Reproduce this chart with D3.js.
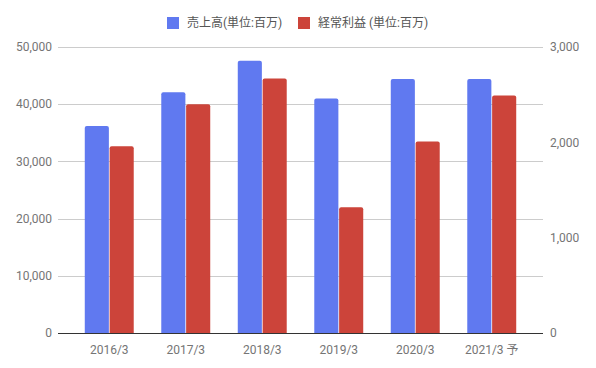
<!DOCTYPE html>
<html><head><meta charset="utf-8">
<script src="https://cdn.jsdelivr.net/npm/d3@7"></script>
<style>body{margin:0;background:#fff}svg{display:block;font-family:Roboto,"Noto Sans CJK JP",sans-serif}</style>
</head><body><svg id="c" width="596" height="368"></svg>
<script>
const categories = ["2016/3","2017/3","2018/3","2019/3","2020/3","2021/3 予"];
const sales = [36200, 42100, 47600, 41000, 44400, 44400];
const profit = [1960, 2400, 2670, 1320, 2010, 2490];
const seriesNames = ["売上高(単位:百万)", "経常利益 (単位:百万)"];
const leftTicks = [0, 10000, 20000, 30000, 40000, 50000];
const rightTicks = [0, 1000, 2000, 3000];
const colors = ["#6079f0", "#cc443a"];

const svg = d3.select("#c");
const L = 58, R = 543, T = 47, B = 333;
const x = d3.scaleBand().domain(categories).range([L, R]).paddingInner(0.36).paddingOuter(0.35);
const x1 = d3.scaleBand().domain([0,1]).range([0, x.bandwidth()]).paddingInner(0.03);
const yL = d3.scaleLinear().domain([0, 50000]).range([B, T]);
const yR = d3.scaleLinear().domain([0, 3000]).range([B, T]);
const fmt = d3.format(",");

// gridlines
svg.append("g").selectAll("line").data(leftTicks.filter(d=>d>0)).join("line")
  .attr("x1", L).attr("x2", R).attr("y1", d=>Math.round(yL(d))+0.5).attr("y2", d=>Math.round(yL(d))+0.5)
  .attr("stroke", "#cccccc").attr("stroke-width", 1);

// left axis labels
svg.append("g").selectAll("text").data(leftTicks).join("text")
  .attr("x", 52).attr("y", d=>yL(d)).attr("dy", "0.35em").attr("text-anchor", "end")
  .attr("font-size", 12).attr("fill", "#757575").text(d=>fmt(d));
// right axis labels
svg.append("g").selectAll("text").data(rightTicks).join("text")
  .attr("x", 550).attr("y", d=>yR(d)).attr("dy", "0.35em").attr("text-anchor", "start")
  .attr("font-size", 12).attr("fill", "#757575").text(d=>fmt(d));

function topRounded(x0, y0, w, h, r) {
  r = Math.min(r, h, w/2);
  return `M${x0},${y0+h}V${y0+r}Q${x0},${y0} ${x0+r},${y0}H${x0+w-r}Q${x0+w},${y0} ${x0+w},${y0+r}V${y0+h}Z`;
}

const g = svg.append("g");
g.selectAll("path.s").data(categories).join("path").attr("class","s")
  .attr("fill", colors[0])
  .attr("d", (c,i)=>{const xx = x(c)+x1(0); const yy = yL(sales[i]); return topRounded(xx, yy, x1.bandwidth(), B-yy, 2);});
g.selectAll("path.p").data(categories).join("path").attr("class","p")
  .attr("fill", colors[1])
  .attr("d", (c,i)=>{const xx = x(c)+x1(1); const yy = yR(profit[i]); return topRounded(xx, yy, x1.bandwidth(), B-yy, 2);});

// baseline
svg.append("line").attr("x1", L).attr("x2", R).attr("y1", B+0.5).attr("y2", B+0.5).attr("stroke", "#333").attr("stroke-width", 1);

// x labels
svg.append("g").selectAll("text").data(categories).join("text")
  .attr("x", c=>x(c)+x.bandwidth()/2).attr("y", 350).attr("dy", "0.35em").attr("text-anchor", "middle")
  .attr("font-size", 12).attr("fill", "#757575").text(c=>c);

// legend
const legX = [167, 298];
const lg = svg.append("g");
seriesNames.forEach((n,i)=>{
  lg.append("rect").attr("x", legX[i]).attr("y", 17).attr("width", 12).attr("height", 12).attr("fill", colors[i]);
  lg.append("text").attr("x", legX[i]+20).attr("y", 23).attr("dy","0.35em").attr("font-size", 12).attr("fill", "#555").text(n);
});
</script></body></html>
